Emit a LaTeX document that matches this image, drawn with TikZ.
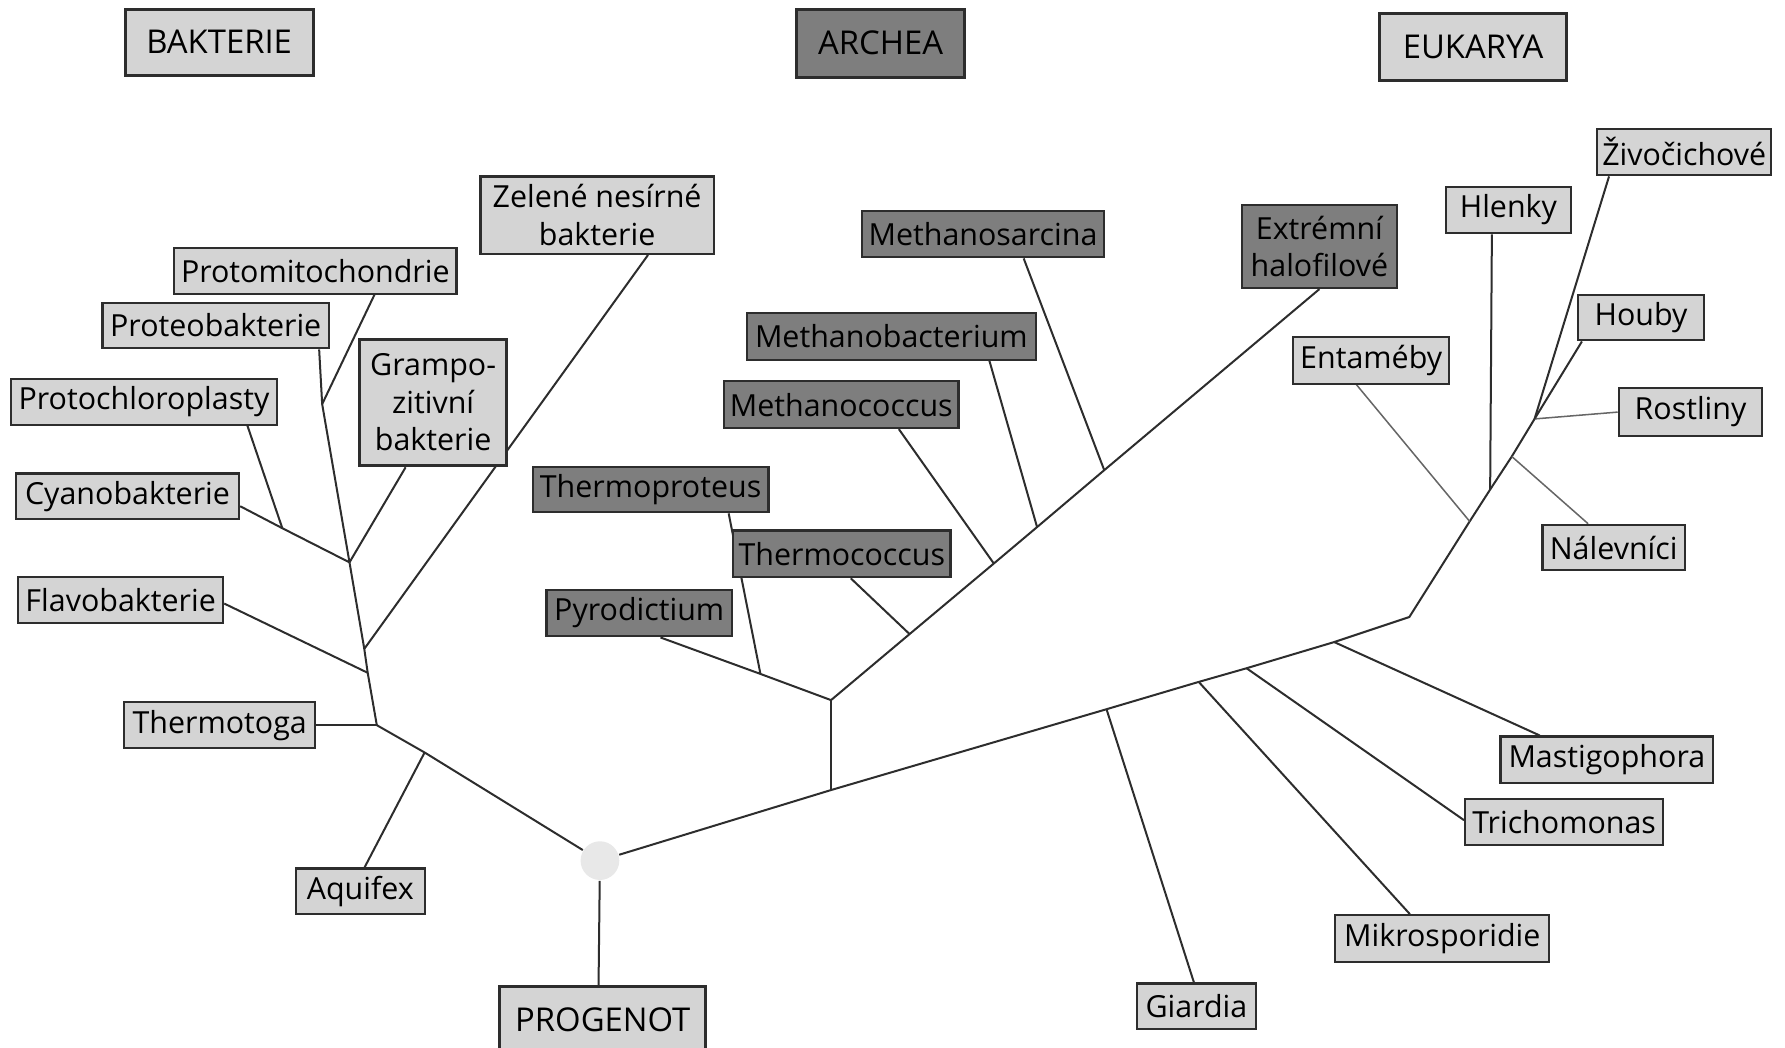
\documentclass[tikz,border=0pt]{standalone}
\usepackage{fontspec}
\setmainfont{Open Sans}
\usepackage{tikz}
\usetikzlibrary{backgrounds}
\definecolor{boxlight}{RGB}{212,212,212}
\definecolor{boxdark}{RGB}{126,126,126}
\definecolor{edgegray}{RGB}{45,45,45}
\definecolor{rootgray}{RGB}{232,232,232}
\tikzset{
    taxonbase/.style={
        rectangle,
        draw=edgegray,
        line width=0.55pt,
        inner sep=0pt,
        minimum height=4.1mm,
        align=center,
        text=black,
        font=\fontsize{7.6}{9.4}\selectfont
    },
    lighttaxon/.style={taxonbase, fill=boxlight},
    darktaxon/.style={taxonbase, fill=boxdark},
    domainbox/.style={taxonbase, line width=0.75pt, minimum height=5.8mm, font=\fontsize{8.2}{10}\selectfont},
    rootnode/.style={circle, fill=rootgray, minimum size=3.4mm, inner sep=0pt},
    branch/.style={draw=edgegray, line width=0.5pt},
    thinbranch/.style={draw=black!60, line width=0.38pt},
}

\begin{document}
\begin{tikzpicture}[x=0.1mm, y=-0.1mm]
    \useasboundingbox (0,0) rectangle (1568,920);

    % Domain headings
    \node[domainbox, fill=boxlight, minimum width=16.5mm] (bakterie) at (192.5,37) {BAKTERIE};
    \node[domainbox, fill=boxdark, minimum width=14.7mm, minimum height=6mm] (archea) at (773.5,38) {ARCHEA};
    \node[domainbox, fill=boxlight, minimum width=16.4mm, minimum height=5.9mm] (eukarya) at (1294,41.5) {EUKARYA};

    % Bacteria
    \node[lighttaxon, minimum width=20.5mm, minimum height=6.8mm] (zelene) at (524.5,189) {Zelené nesírné\\bakterie};
    \node[lighttaxon, minimum width=24.8mm, minimum height=4mm] (protomito) at (277,238) {Protomitochondrie};
    \node[lighttaxon, minimum width=19.9mm, minimum height=4mm] (proteo) at (189.5,286) {Proteobakterie};
    \node[lighttaxon, minimum width=12.9mm, minimum height=11.1mm, line width=0.85pt] (grampo) at (380.5,353.5) {Grampo-\\zitivní\\bakterie};
    \node[lighttaxon, minimum width=23.3mm, minimum height=4mm] (protochloro) at (126.5,353) {Protochloroplasty};
    \node[lighttaxon, minimum width=19.6mm, minimum height=4mm] (cyano) at (112,436) {Cyanobakterie};
    \node[lighttaxon, minimum width=18mm, minimum height=4mm] (flavo) at (106,527) {Flavobakterie};
    \node[lighttaxon, minimum width=16.8mm, minimum height=4mm] (thermotoga) at (193,637) {Thermotoga};
    \node[lighttaxon, minimum width=11.3mm, minimum height=4mm] (aquifex) at (316.5,783) {Aquifex};
    \node[domainbox, fill=boxlight, minimum width=18.1mm] (progenot) at (529.5,896) {PROGENOT};
    \node[rootnode] (root) at (527,756) {};

    % Archaea
    \node[darktaxon, minimum width=21.3mm] (methanosarcina) at (863.5,205.5) {Methanosarcina};
    \node[darktaxon, minimum width=25.4mm] (methanobact) at (783,295.5) {Methanobacterium};
    \node[darktaxon, minimum width=20.6mm] (methanococcus) at (739,355.5) {Methanococcus};
    \node[darktaxon, minimum width=20.7mm, minimum height=4mm] (thermoproteus) at (571.5,430) {Thermoproteus};
    \node[darktaxon, minimum width=19.1mm] (thermococcus) at (739.5,486.5) {Thermococcus};
    \node[darktaxon, minimum width=16.3mm] (pyrodictium) at (561.5,538.5) {Pyrodictium};
    \node[darktaxon, minimum width=13.6mm, minimum height=7.3mm] (halofil) at (1159,216.5) {Extrémní\\halofilové};

    % Eukarya
    \node[lighttaxon, minimum width=15.3mm] (zivocich) at (1479.5,133.5) {Živočichové};
    \node[lighttaxon, minimum width=11mm] (hlenky) at (1325,184.5) {Hlenky};
    \node[lighttaxon, minimum width=11.1mm, minimum height=4mm] (houby) at (1441.5,279) {Houby};
    \node[lighttaxon, minimum width=13.7mm] (entameby) at (1204.5,316.5) {Entaméby};
    \node[lighttaxon, minimum width=12.6mm, minimum height=4.2mm] (rostliny) at (1485,362) {Rostliny};
    \node[lighttaxon, minimum width=12.5mm, minimum height=4mm] (nalevnici) at (1417.5,481) {Nálevníci};
    \node[lighttaxon, minimum width=18.7mm] (mastigo) at (1411.5,667.5) {Mastigophora};
    \node[lighttaxon, minimum width=17.4mm, minimum height=4mm] (trichomonas) at (1374,722) {Trichomonas};
    \node[lighttaxon, minimum width=18.8mm] (mikro) at (1267,824.5) {Mikrosporidie};
    \node[lighttaxon, minimum width=10.4mm, minimum height=4mm] (giardia) at (1051,884) {Giardia};

    % Branch points
    \coordinate (jpm) at (283,355);
    \coordinate (jpc) at (248,464);
    \coordinate (jb) at (307,494);
    \coordinate (jz) at (320,570);
    \coordinate (jf) at (323,591);
    \coordinate (jt) at (331,637);
    \coordinate (ja) at (373,661);
    \coordinate (jar) at (730,694);
    \coordinate (jar2) at (730,615);
    \coordinate (jtp) at (668,592);
    \coordinate (jtc) at (799,557);
    \coordinate (jmc) at (873,495);
    \coordinate (jmb) at (911,463);
    \coordinate (jms) at (970,413);
    \coordinate (jg) at (972,623);
    \coordinate (jmk) at (1053,599);
    \coordinate (jtr) at (1095,587);
    \coordinate (jma) at (1172,564);
    \coordinate (kink) at (1238,542);
    \coordinate (jen) at (1291,458);
    \coordinate (jhl) at (1309,430);
    \coordinate (jna) at (1328,401);
    \coordinate (jtop) at (1348,368);

    \begin{scope}[on background layer]
        % Bacteria branches
        \draw[branch] (proteo.-13) -- (jpm) -- (jb);
        \draw[branch] (protomito.-22) -- (jpm);
        \draw[branch] (cyano.-5) -- (jpc) -- (jb);
        \draw[branch] (protochloro.-13) -- (jpc);
        \draw[branch] (grampo.-113) -- (jb);
        \draw[branch] (jb) -- (jz) -- (jf) -- (jt);
        \draw[branch] (zelene.-38) -- (jz);
        \draw[branch] (flavo.-2) -- (jf);
        \draw[branch] (thermotoga.east) -- (jt);
        \draw[branch] (jt) -- (ja) -- (root);
        \draw[branch] (aquifex.80) -- (ja);
        \draw[branch] (root) -- (progenot.97);

        % Main trunk up to the eukarya
        \draw[branch] (root) -- (jar) -- (jg) -- (jmk) -- (jtr) -- (jma) -- (kink)
            -- (jen) -- (jhl) -- (jna) -- (jtop) -- (houby.-158);

        % Archaea branches
        \draw[branch] (jar) -- (jar2);
        \draw[branch] (pyrodictium.-49) -- (jtp) -- (jar2);
        \draw[branch] (thermoproteus.-17) -- (jtp);
        \draw[branch] (jar2) -- (jtc) -- (jmc) -- (jmb) -- (jms) -- (halofil.south);
        \draw[branch] (thermococcus.-70) -- (jtc);
        \draw[branch] (methanococcus.-23) -- (jmc);
        \draw[branch] (methanobact.-14) -- (jmb);
        \draw[branch] (methanosarcina.-31) -- (jms);

        % Eukarya branches
        \draw[branch] (giardia.96) -- (jg);
        \draw[branch] (mikro.143) -- (jmk);
        \draw[branch] (trichomonas.179) -- (jtr);
        \draw[branch] (mastigo.160) -- (jma);
        \draw[thinbranch] (entameby.-121) -- (jen);
        \draw[branch] (hlenky.-124) -- (jhl);
        \draw[thinbranch] (nalevnici.137) -- (jna);
        \draw[thinbranch] (rostliny.180) -- (jtop);
        \draw[branch] (zivocich.-162) -- (jtop);
    \end{scope}
\end{tikzpicture}
\end{document}
